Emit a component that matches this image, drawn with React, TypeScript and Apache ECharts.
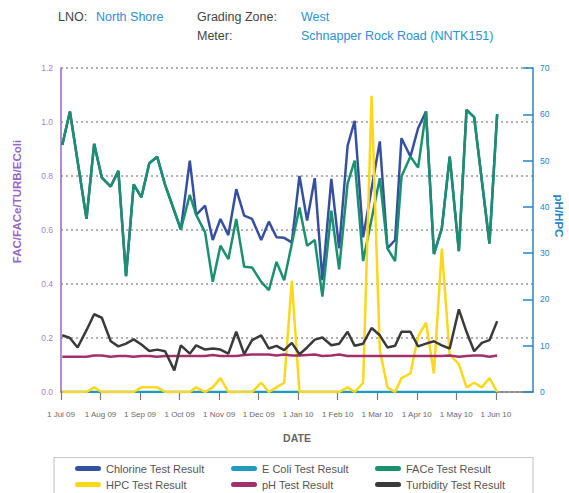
import React, { useEffect, useRef } from 'react';
import * as echarts from 'echarts';

const MONTH_LABELS = ['1 Jul 09', '1 Aug 09', '1 Sep 09', '1 Oct 09', '1 Nov 09', '1 Dec 09', '1 Jan 10', '1 Feb 10', '1 Mar 10', '1 Apr 10', '1 May 10', '1 Jun 10'];
const MONTH_TICKS = [0, 1, 2, 3, 4, 5, 6, 7, 8, 9, 10, 11];

const DATES = [
  '2009-07-02', '2009-07-08', '2009-07-14', '2009-07-21', '2009-07-27',
  '2009-08-02', '2009-08-09', '2009-08-15', '2009-08-21', '2009-08-27',
  '2009-09-02', '2009-09-08', '2009-09-14', '2009-09-20', '2009-09-27',
  '2009-10-02', '2009-10-09', '2009-10-14', '2009-10-21', '2009-10-27',
  '2009-11-02', '2009-11-08', '2009-11-14', '2009-11-20', '2009-11-26',
  '2009-12-03', '2009-12-09', '2009-12-15', '2009-12-21', '2009-12-27',
  '2010-01-02', '2010-01-08', '2010-01-14', '2010-01-20', '2010-01-27',
  '2010-02-02', '2010-02-08', '2010-02-13', '2010-02-19', '2010-02-25',
  '2010-03-03', '2010-03-09', '2010-03-15', '2010-03-20', '2010-03-27',
  '2010-04-02', '2010-04-08', '2010-04-14', '2010-04-20', '2010-04-26',
  '2010-05-03', '2010-05-09', '2010-05-15', '2010-05-21', '2010-05-27',
  '2010-06-02',
];

const CHLORINE = [
  0.915, 1.039, null, 0.641, 0.919,
  0.794, 0.761, 0.819, 0.429, 0.769,
  0.721, 0.847, 0.871, 0.767, null,
  0.602, 0.857, 0.656, 0.690, 0.563,
  0.641, 0.581, 0.751, 0.653, 0.641,
  0.563, 0.631, 0.573, 0.571, 0.554,
  0.800, 0.635, 0.792, 0.414, 0.789,
  0.532, 0.912, 1.004, 0.573, null,
  0.928, 0.532, 0.563, 0.940, 0.872,
  0.977, 1.039, 0.511, 0.606, 0.872,
  0.522, 1.045, 1.018, null, 0.550,
  1.029,
];

const ECOLI = [
  0, 0, 0, 0, 0,
  0, 0, 0, 0, 0,
  0, 0, 0, 0, 0,
  0, 0, 0, 0, 0,
  0, 0, 0, 0, 0,
  0, 0, 0, 0, 0,
  0, 0, 0, 0, 0,
  0, 0, 0, 0, 0,
  0, 0, 0, 0, 0,
  0, 0, 0, 0, 0,
  0, 0, 0, 0, 0,
  0,
];

const FACE = [
  0.915, 1.039, null, 0.641, 0.919,
  0.794, 0.761, 0.819, 0.429, 0.769,
  0.721, 0.847, 0.871, 0.767, null,
  0.602, 0.730, 0.656, 0.591, 0.408,
  0.542, 0.492, 0.641, 0.464, 0.461,
  0.408, 0.377, 0.482, 0.414, null,
  0.683, 0.542, 0.563, 0.353, 0.672,
  0.454, 0.773, 0.857, 0.485, null,
  0.792, 0.532, 0.485, 0.798, 0.872,
  0.831, 1.039, 0.511, 0.606, 0.872,
  0.522, 1.045, 1.018, null, 0.550,
  1.029,
];

const HPC = [
  0, 0, 0, 0, 1,
  0, 0, 0, 0, 0,
  1, 1, 1, 0, 0,
  0, 0, 1, 0, 1,
  3, 0, 0, 0, 0,
  2, 0, 1, 2, 24,
  0, 0, 0, 0, 0,
  0, 1, 0, 2, 64,
  9, 1, 0, 3, 4,
  12, 15, 4, 31, 8,
  6, 1, 2, 1, 3,
  0,
];

const PH = [
  7.6, 7.6, 7.6, 7.6, 7.9,
  7.9, 7.6, 7.8, 7.8, 7.6,
  7.8, 7.8, 7.6, 7.8, 7.8,
  7.8, 7.8, 7.8, 7.8, 8.0,
  7.8, 7.8, 7.8, 8.0, 8.1,
  8.1, 8.1, 7.9, 8.1, 7.9,
  7.9, 8.0, 8.1, 7.8, 7.9,
  8.1, 7.8, 7.8, 7.8, 7.8,
  7.8, 7.8, 7.8, 7.8, 7.8,
  7.8, 7.8, 7.8, 7.8, 7.9,
  7.6, 7.8, 7.9, 7.9, 7.6,
  7.9,
];

const TURBIDITY = [
  0.210, 0.200, 0.165, 0.229, 0.288,
  0.275, 0.188, 0.169, 0.179, 0.195,
  0.176, 0.152, 0.157, 0.151, 0.080,
  0.173, 0.142, 0.173, 0.157, 0.161,
  0.157, 0.142, 0.223, 0.140, 0.192,
  0.210, 0.161, 0.171, 0.155, 0.182,
  0.140, 0.165, 0.194, 0.202, 0.173,
  0.179, 0.223, 0.171, 0.179, 0.237,
  0.210, 0.165, 0.171, 0.223, 0.223,
  0.169, 0.179, 0.188, 0.173, 0.161,
  0.306, 0.223, 0.151, 0.182, 0.192,
  0.262,
];

const FONT = 'Liberation Sans';

function monthIndex(d: string): number {
  const [y, m, day] = d.split('-').map(Number);
  const dim = new Date(y, m, 0).getDate();
  return (y - 2009) * 12 + (m - 7) + (day - 1) / dim;
}

const X = DATES.map(monthIndex);
const pts = (vals: (number | null)[]) => X.map((x, i) => [x, vals[i] === null ? '-' : vals[i]]);

export default function App() {
  const ref = useRef<HTMLDivElement>(null);
  useEffect(() => {
    if (!ref.current) return;
    const chart = echarts.init(ref.current, undefined, { renderer: 'svg' });
    const line = (name: string, data: (number | null)[], color: string, yIdx: number) => ({
      name,
      type: 'line',
      yAxisIndex: yIdx,
      data: pts(data),
      symbol: 'none',
      connectNulls: true,
      itemStyle: { color },
      lineStyle: { color, width: 2.5 },
    });
    const legendText = { color: '#555', fontSize: 11, fontFamily: FONT, lineHeight: 12 };
    const legendCommon = {
      orient: 'vertical',
      top: 462.5,
      itemWidth: 26,
      itemHeight: 5,
      itemGap: 4,
      icon: 'path://M2.5,0 H23.5 A2.5,2.5 0 0 1 23.5,5 H2.5 A2.5,2.5 0 0 1 2.5,0 Z',
      textStyle: legendText,
      padding: 0,
    };
    chart.setOption({
      animation: false,
      textStyle: { fontFamily: FONT },
      grid: { left: 61, right: 36, top: 68, bottom: 101, containLabel: false },
      xAxis: {
        type: 'value',
        min: 0,
        max: 11.94,
        interval: 1,
        name: 'DATE',
        nameLocation: 'middle',
        nameGap: 40,
        nameTextStyle: { fontWeight: 'bold', color: '#666', fontSize: 10.5, fontFamily: FONT },
        axisLine: { lineStyle: { color: '#7a7a7a', width: 1.5 } },
        axisTick: { length: 8, customValues: MONTH_TICKS, lineStyle: { color: '#7a7a7a', width: 1.2 } },
        axisLabel: {
          customValues: MONTH_TICKS,
          formatter: (v: number) => MONTH_LABELS[Math.round(v)] ?? '',
          color: '#6a6a6a',
          fontSize: 8,
          margin: 18,
        },
        splitLine: { show: false },
      },
      yAxis: [
        {
          type: 'value',
          min: 0,
          max: 1.2,
          interval: 0.2,
          position: 'left',
          axisLine: { show: true, lineStyle: { color: '#9569c0', width: 1.5 } },
          axisTick: { show: false },
          axisLabel: { formatter: (v: number) => v.toFixed(1), color: '#9f85cc', fontSize: 8.5, margin: 8 },
          splitLine: { show: true, lineStyle: { type: [2, 3], color: '#b0b0b0', width: 1.8 } },
        },
        {
          type: 'value',
          min: 0,
          max: 70,
          interval: 10,
          position: 'right',
          axisLine: { show: true, lineStyle: { color: '#2585c6', width: 1.5 } },
          axisTick: { show: true, inside: true, length: 10, lineStyle: { color: '#2585c6', width: 1.5 } },
          axisLabel: { color: '#2585c6', fontSize: 8.5, margin: 7 },
          splitLine: { show: false },
        },
      ],
      legend: [
        { ...legendCommon, left: 75, data: ['Chlorine Test Result', 'HPC Test Result'] },
        { ...legendCommon, left: 231, data: ['E Coli Test Result', 'pH Test Result'] },
        { ...legendCommon, left: 375, data: ['FACe Test Result', 'Turbidity Test Result'] },
      ],
      graphic: [
        { type: 'rect', shape: { x: 54, y: 457.5, width: 479, height: 40 }, style: { fill: 'none', stroke: '#c8c8c8', lineWidth: 1.2 }, silent: true },
        { type: 'text', x: 58, y: 16.5, style: { text: 'LNO:', fill: '#444', font: `12.5px "${FONT}"`, textVerticalAlign: 'middle' } },
        { type: 'text', x: 96, y: 16.5, style: { text: 'North Shore', fill: '#2d8fd5', font: `12.5px "${FONT}"`, textVerticalAlign: 'middle' } },
        { type: 'text', x: 197, y: 16.5, style: { text: 'Grading Zone:', fill: '#444', font: `12.5px "${FONT}"`, textVerticalAlign: 'middle' } },
        { type: 'text', x: 301, y: 16.5, style: { text: 'West', fill: '#2d8fd5', font: `12.5px "${FONT}"`, textVerticalAlign: 'middle' } },
        { type: 'text', x: 197, y: 36.3, style: { text: 'Meter:', fill: '#444', font: `12.5px "${FONT}"`, textVerticalAlign: 'middle' } },
        { type: 'text', x: 301, y: 36.3, style: { text: 'Schnapper Rock Road (NNTK151)', fill: '#2d8fd5', font: `12.5px "${FONT}"`, textVerticalAlign: 'middle' } },
        {
          type: 'text', x: 17, y: 201.5, rotation: Math.PI / 2,
          style: { text: 'FAC/FACe/TURB/EColi', fill: '#9569c0', font: `bold 11.5px "${FONT}"`, textAlign: 'center', textVerticalAlign: 'middle' },
        },
        {
          type: 'text', x: 559, y: 216, rotation: -Math.PI / 2,
          style: { text: 'pH/HPC', fill: '#2585c6', font: `bold 11.5px "${FONT}"`, textAlign: 'center', textVerticalAlign: 'middle' },
        },
      ],
      series: [
        line('Chlorine Test Result', CHLORINE, '#3550a0', 0),
        line('E Coli Test Result', ECOLI, '#1f9bbf', 0),
        line('FACe Test Result', FACE, '#1a9070', 0),
        line('HPC Test Result', HPC, '#fdd719', 1),
        line('pH Test Result', PH, '#a2306a', 1),
        line('Turbidity Test Result', TURBIDITY, '#3a3a3a', 0),
      ],
    });
    return () => chart.dispose();
  }, []);
  return <div ref={ref} style={{ width: 569, height: 493, position: 'absolute', left: 0, top: 0 }} />;
}
